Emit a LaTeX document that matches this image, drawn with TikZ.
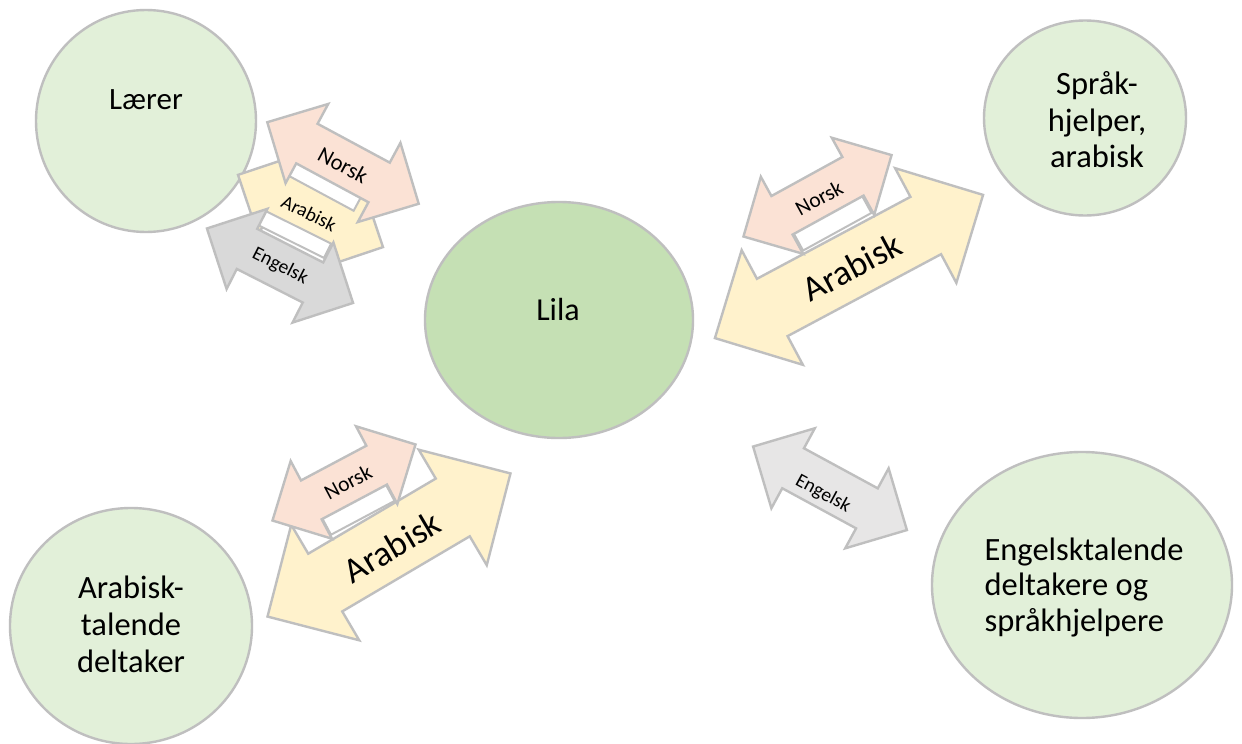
\documentclass[tikz,border=0pt]{standalone}
\usepackage{fontspec}
\setmainfont{Carlito}
\usetikzlibrary{shapes.geometric}

\definecolor{ringline}{HTML}{BFBFBF}
\definecolor{palegreen}{HTML}{E2F0D9}
\definecolor{midgreen}{HTML}{C5E0B4}
\definecolor{peach}{HTML}{FBE2D5}
\definecolor{cream}{HTML}{FFF2CC}
\definecolor{stone}{HTML}{D9D9D9}
\definecolor{mist}{HTML}{E7E6E6}

\tikzset{
  bubble/.style={ellipse, draw=ringline, line width=2.4pt, fill=palegreen, inner sep=0pt},
  arrowline/.style={draw=ringline, line width=2.4pt, line join=miter},
  strip/.style={draw=ringline, line width=2pt, fill=white},
  tag/.style={inner sep=0pt, text=black},
}
\newcommand\fsz[2]{\fontsize{#1}{#2}\selectfont}

% double-headed block arrow: centre x, centre y, angle, length, head width, fill
\newcommand\dblarrow[6]{%
  \begin{scope}[shift={(#1,#2)}, rotate=#3]
    \path[arrowline, fill=#6]
      ({-#4/2},0) -- ({-#4/2+#5/2},{-#5/2}) -- ({-#4/2+#5/2},{-#5/4})
      -- ({#4/2-#5/2},{-#5/4}) -- ({#4/2-#5/2},{-#5/2}) -- ({#4/2},0)
      -- ({#4/2-#5/2},{#5/2}) -- ({#4/2-#5/2},{#5/4})
      -- ({-#4/2+#5/2},{#5/4}) -- ({-#4/2+#5/2},{#5/2}) -- cycle;
  \end{scope}}

% white strip under an arrow shaft: centre x, centre y, angle, u1, u2, n1, n2
\newcommand\shaftstrip[7]{%
  \begin{scope}[shift={(#1,#2)}, rotate=#3]
    \path[strip] (#4,#6) rectangle (#5,#7);
  \end{scope}}

\begin{document}
\begin{tikzpicture}[x=1pt, y=-1pt]
  \useasboundingbox (0,0) rectangle (1242,744);
  \fill[white] (0,0) rectangle (1242,744);

  % participants
  \node[bubble, minimum width=220pt, minimum height=222pt] (laerer) at (146,121) {};
  \node[bubble, minimum width=202pt, minimum height=195pt] (sprak) at (1085,118) {};
  \node[bubble, fill=midgreen, minimum width=268pt, minimum height=236pt] (lila) at (559,320) {};
  \node[bubble, minimum width=242pt, minimum height=236pt] (ardelt) at (131,626) {};
  \node[bubble, minimum width=300pt, minimum height=266pt] (engdelt) at (1082,585) {};

  \node[tag, font=\fsz{31}{36}] (laerer-t) at (146,100) {Lærer};
  \node[tag, font=\fsz{32.5}{36.5}, align=center] (sprak-t) at (1097,120) {Språk-\\hjelper,\\arabisk};
  \node[tag, font=\fsz{32}{36}] (lila-t) at (558,310) {Lila};
  \node[tag, font=\fsz{32.5}{37}, align=center] (ardelt-t) at (131,624) {Arabisk-\\talende\\deltaker};
  \node[tag, font=\fsz{32.5}{35.5}, align=left] (engdelt-t) at (1084,587) {Engelsktalende\\deltakere og\\språkhjelpere};

  % Lærer <-> Lila
  \dblarrow{310.5}{211}{-26.5}{162}{90}{cream}
  \shaftstrip{310.5}{211}{-26.5}{-41}{33}{20}{36}
  \dblarrow{280}{265.7}{-27}{164}{90}{stone}
  \shaftstrip{343}{163}{-28.3}{-42}{32}{20}{37}
  \dblarrow{343}{163}{-28.3}{172}{90}{peach}
  \node[tag, rotate=-28.3, font=\fsz{22.5}{24}] (tl-norsk) at (343,165) {Norsk};
  \node[tag, rotate=-26.5, font=\fsz{19.5}{22}] (tl-arabisk) at (309,213) {Arabisk};
  \node[tag, rotate=-27, font=\fsz{19.5}{22}] (tl-engelsk) at (280,266) {Engelsk};

  % Lila <-> språkhjelper
  \dblarrow{849}{266.5}{28.1}{304}{130}{cream}
  \shaftstrip{817.5}{195.8}{28.8}{-39}{39}{20}{41}
  \dblarrow{817.5}{195.8}{28.8}{169}{88}{peach}
  \node[tag, rotate=28.8, font=\fsz{21.5}{24}] (tr-norsk) at (819,198) {Norsk};
  \node[tag, rotate=28.1, font=\fsz{35.5}{38}] (tr-arabisk) at (852,267) {Arabisk};

  % deltaker <-> Lila
  \dblarrow{389}{545}{30.5}{282}{134}{cream}
  \shaftstrip{344}{482.5}{28}{-36}{36}{20}{40}
  \dblarrow{344}{482.5}{28}{162}{88}{peach}
  \node[tag, rotate=28, font=\fsz{21.5}{24}] (bl-norsk) at (348,482) {Norsk};
  \node[tag, rotate=30.5, font=\fsz{35.5}{38}] (bl-arabisk) at (392,547) {Arabisk};

  % Lila <-> engelsktalende
  \dblarrow{830}{488.3}{-28.5}{175}{91}{mist}
  \node[tag, rotate=-28.5, font=\fsz{19.5}{22}] (br-engelsk) at (823,494) {Engelsk};
\end{tikzpicture}
\end{document}
